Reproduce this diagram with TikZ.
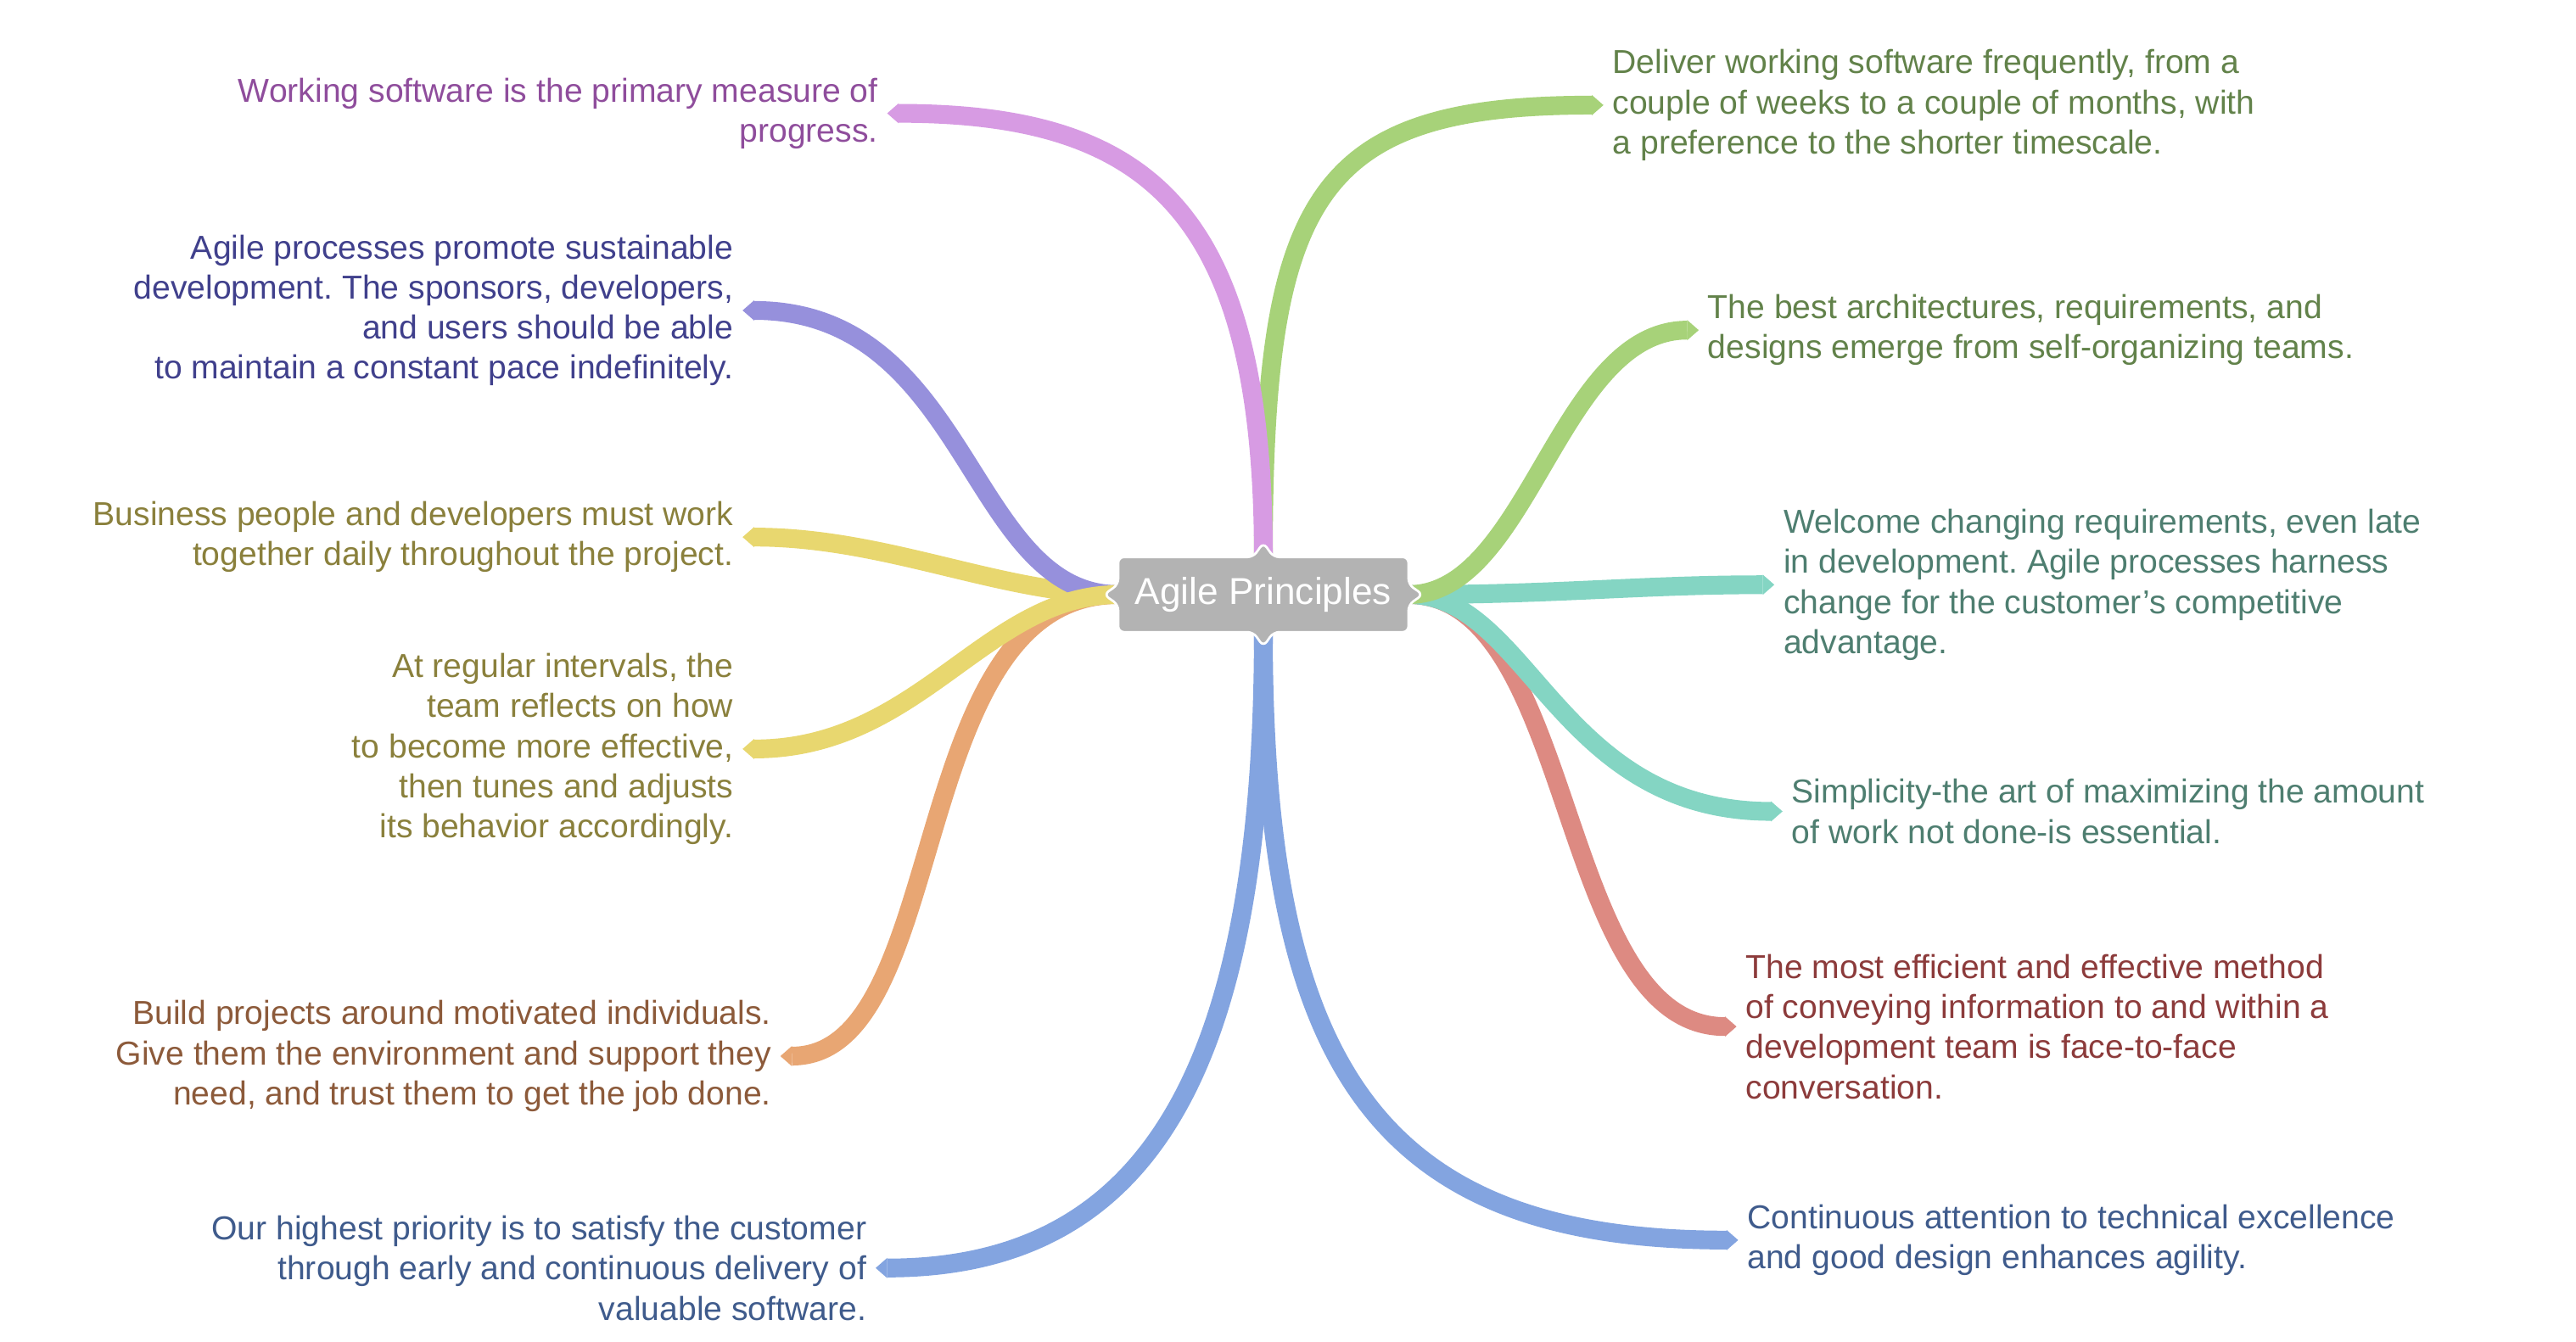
\documentclass[tikz,border=0pt]{standalone}
\usepackage{fontspec}
\setmainfont{Liberation Sans}
\usetikzlibrary{arrows.meta,backgrounds}
\frenchspacing

\definecolor{orchidline}{HTML}{D79BE3}
\definecolor{orchidtext}{HTML}{8F4D9C}
\definecolor{leafline}{HTML}{A7D279}
\definecolor{leaftext}{HTML}{62824A}
\definecolor{violetline}{HTML}{9690DC}
\definecolor{violettext}{HTML}{40408C}
\definecolor{sandline}{HTML}{E8D76F}
\definecolor{sandtext}{HTML}{8A803C}
\definecolor{apricotline}{HTML}{E8A673}
\definecolor{apricottext}{HTML}{8C5A3A}
\definecolor{skyline}{HTML}{83A4E0}
\definecolor{skytext}{HTML}{3F5B8C}
\definecolor{tealline}{HTML}{84D5C3}
\definecolor{tealtext}{HTML}{4E7E70}
\definecolor{roseline}{HTML}{DD8A82}
\definecolor{rosetext}{HTML}{8C3B3B}
\definecolor{hubgray}{HTML}{B3B3B3}

\tikzset{
  branch/.style={line width=6.5pt, -{Triangle[line width=0pt, width=7pt, length=4pt]}},
  leftleaf/.style={anchor=east, align=right, inner sep=3pt, font=\fontsize{11.5}{13.9}\selectfont},
  rightleaf/.style={anchor=west, align=left, inner sep=3pt, font=\fontsize{11.5}{13.9}\selectfont},
  hubbox/.style={minimum width=3.52cm, minimum height=0.9cm, inner sep=0pt, text=white, font=\fontsize{13}{15}\selectfont},
  hubshape/.style={draw=white, fill=hubgray, line width=0.8pt, rounded corners=2pt}
}

\begin{document}
\begin{tikzpicture}[x=0.02cm, y=-0.02cm]
\useasboundingbox (0,0) rectangle (1568,817);

% Central topic
\node [hubbox] (hub) at (769,362) {Agile Principles};

% Leaves on the left
\node [leftleaf, text=orchidtext] (measure) at (540,69) {Working software is the primary measure of\\ progress.};
\node [leftleaf, text=violettext] (pace) at (452,189) {Agile processes promote sustainable\\ development. The sponsors, developers,\\ and users should be able\\ to maintain a constant pace indefinitely.};
\node [leftleaf, text=sandtext] (daily) at (452,327) {Business people and developers must work\\ together daily throughout the project.};
\node [leftleaf, text=sandtext] (reflect) at (452,456) {At regular intervals, the\\ team reflects on how\\ to become more effective,\\ then tunes and adjusts\\ its behavior accordingly.};
\node [leftleaf, text=apricottext] (motivate) at (475,643) {Build projects around motivated individuals.\\ Give them the environment and support they\\ need, and trust them to get the job done.};
\node [leftleaf, text=skytext] (satisfy) at (533,772) {Our highest priority is to satisfy the customer\\ through early and continuous delivery of\\ valuable software.};

% Leaves on the right
\node [rightleaf, text=leaftext] (deliver) at (976,64) {Deliver working software frequently, from a\\ couple of weeks to a couple of months, with\\ a preference to the shorter timescale.};
\node [rightleaf, text=leaftext] (teams) at (1034,201) {The best architectures, requirements, and\\ designs emerge from self-organizing teams.};
\node [rightleaf, text=tealtext] (change) at (1080,356) {Welcome changing requirements, even late\\ in development. Agile processes harness\\ change for the customer's competitive\\ advantage.};
\node [rightleaf, text=tealtext] (simple) at (1085,494) {Simplicity-the art of maximizing the amount\\ of work not done-is essential.};
\node [rightleaf, text=rosetext] (faceface) at (1057,625) {The most efficient and effective method\\ of conveying information to and within a\\ development team is face-to-face\\ conversation.};
\node [rightleaf, text=skytext] (excellence) at (1058,755) {Continuous attention to technical excellence\\ and good design enhances agility.};

\begin{scope}[on background layer]
% Drawing branches down
\draw [branch, skyline] (hub.south) .. controls ([shift={(0,265)}]hub.south) and ([shift={(167,0)}]satisfy.east) .. (satisfy.east);
\draw [branch, skyline] (hub.south) .. controls ([shift={(0,265)}]hub.south) and ([shift={(-220,0)}]excellence.west) .. (excellence.west);

% Drawing branches to the left
\draw [branch, apricotline] (hub.west) .. controls ([shift={(-131,0)}]hub.west) and ([shift={(105,0)}]motivate.east) .. (motivate.east);
\draw [branch, sandline] (hub.west) .. controls ([shift={(-71,0)}]hub.west) and ([shift={(88,0)}]daily.east) .. (daily.east);
\draw [branch, violetline] (hub.west) .. controls ([shift={(-91,0)}]hub.west) and ([shift={(138,0)}]pace.east) .. (pace.east);
\draw [branch, sandline] (hub.west) .. controls ([shift={(-81,0)}]hub.west) and ([shift={(108,0)}]reflect.east) .. (reflect.east);

% Drawing branches to the right
\draw [branch, roseline] (hub.east) .. controls ([shift={(103,0)}]hub.east) and ([shift={(-110,0)}]faceface.west) .. (faceface.west);
\draw [branch, tealline] (hub.east) .. controls ([shift={(73,0)}]hub.east) and ([shift={(-137,0)}]simple.west) .. (simple.west);
\draw [branch, tealline] (hub.east) .. controls ([shift={(93,0)}]hub.east) and ([shift={(-82,0)}]change.west) .. (change.west);
\draw [branch, leafline] (hub.east) .. controls ([shift={(73,0)}]hub.east) and ([shift={(-85,0)}]teams.west) .. (teams.west);

% Drawing branches up
\draw [branch, leafline] (hub.north) .. controls ([shift={(0,-220)}]hub.north) and ([shift={(-176,0)}]deliver.west) .. (deliver.west);
\draw [branch, orchidline] (hub.north) .. controls ([shift={(0,-210)}]hub.north) and ([shift={(160,0)}]measure.east) .. (measure.east);

% Drawing hub box with its notches
\draw [hubshape] (hub.north west) -- ([xshift=-3.5pt]hub.north) -- ([yshift=5pt]hub.north) -- ([xshift=3.5pt]hub.north)
  -- (hub.north east) -- ([yshift=3.5pt]hub.east) -- ([xshift=5pt]hub.east) -- ([yshift=-3.5pt]hub.east)
  -- (hub.south east) -- ([xshift=3.5pt]hub.south) -- ([yshift=-5pt]hub.south) -- ([xshift=-3.5pt]hub.south)
  -- (hub.south west) -- ([yshift=-3.5pt]hub.west) -- ([xshift=-5pt]hub.west) -- ([yshift=3.5pt]hub.west) -- cycle;
\end{scope}
\end{tikzpicture}
\end{document}
